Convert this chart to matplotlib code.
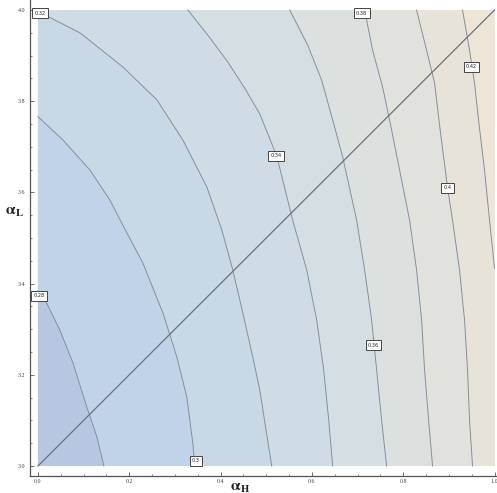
import matplotlib
matplotlib.use("Agg")
import matplotlib.pyplot as plt
from matplotlib.ticker import MultipleLocator, FixedLocator

plt.rcParams['mathtext.fontset'] = 'stix'

# ---------------- data ----------------
levels = [0.28, 0.30, 0.32, 0.34, 0.36, 0.38, 0.40, 0.42]
level_labels = ["0.28", "0.3", "0.32", "0.34", "0.36", "0.38", "0.4", "0.42"]

# contour paths: alpha_H (x) and alpha_L (y), from left/top edge to bottom/right edge
c028_x = [0.0, 0.0175, 0.048, 0.0766, 0.107, 0.129, 0.1444]
c028_y = [3.384, 3.360, 3.298, 3.226, 3.129, 3.064, 3.0]
c030_x = [0.0, 0.0547, 0.1138, 0.1575, 0.1969, 0.2298, 0.2735, 0.3042, 0.3260, 0.3392, 0.3435]
c030_y = [3.766, 3.715, 3.649, 3.583, 3.507, 3.445, 3.336, 3.239, 3.151, 3.050, 3.0]
c032_x = [0.0, 0.0153, 0.0919, 0.1860, 0.2604, 0.3173, 0.3698, 0.4026, 0.4267, 0.4486, 0.4705, 0.4858, 0.4989, 0.5120]
c032_y = [3.997, 3.989, 3.950, 3.875, 3.803, 3.715, 3.612, 3.518, 3.430, 3.336, 3.239, 3.167, 3.083, 3.0]
c034_x = [0.3282, 0.3720, 0.4158, 0.4551, 0.4858, 0.5230, 0.5580, 0.5886, 0.6105, 0.6258, 0.6368, 0.6455]
c034_y = [4.0, 3.945, 3.886, 3.825, 3.772, 3.680, 3.539, 3.430, 3.320, 3.211, 3.101, 3.0]
c036_x = [0.5514, 0.5908, 0.6214, 0.6455, 0.6674, 0.6980, 0.7155, 0.7309, 0.7418, 0.7527, 0.7637]
c036_y = [4.0, 3.923, 3.846, 3.759, 3.678, 3.539, 3.430, 3.320, 3.211, 3.101, 3.0]
c038_x = [0.7155, 0.7330, 0.7549, 0.7724, 0.7921, 0.8140, 0.8293, 0.8403, 0.8468, 0.8556, 0.8643]
c038_y = [4.0, 3.912, 3.831, 3.748, 3.649, 3.539, 3.430, 3.320, 3.211, 3.101, 3.0]
c040_x = [0.8293, 0.8512, 0.8687, 0.8796, 0.8972, 0.9081, 0.9234, 0.9344, 0.9409, 0.9453, 0.9519]
c040_y = [4.0, 3.912, 3.840, 3.748, 3.610, 3.539, 3.430, 3.320, 3.211, 3.101, 3.0]
c042_x = [0.930, 0.9453, 0.9562, 0.9650, 0.9781, 0.9891, 1.0]
c042_y = [4.0, 3.912, 3.840, 3.759, 3.649, 3.539, 3.434]

paths_x = [c028_x, c030_x, c032_x, c034_x, c036_x, c038_x, c040_x, c042_x]
paths_y = [c028_y, c030_y, c032_y, c034_y, c036_y, c038_y, c040_y, c042_y]

# label positions
label_x = [0.002, 0.346, 0.004, 0.521, 0.735, 0.709, 0.897, 0.950]
label_y = [3.373, 3.011, 3.993, 3.680, 3.265, 3.993, 3.610, 3.875]

# band colours: below 0.28 ... above 0.42
band_colors = ["#b7c7e2", "#c1d3e9", "#c8d8e7", "#cfdce5", "#d5dfe3",
               "#dce1e0", "#e2e2dc", "#e7e3d8", "#ede5d6"]

# diagonal line
diag_x = [0.0, 1.0]
diag_y = [3.0, 4.0]

x_ticks = [0.0, 0.2, 0.4, 0.6, 0.8, 1.0]
y_ticks = [3.0, 3.2, 3.4, 3.6, 3.8, 4.0]
x_ticklabels = ["0.0", "0.2", "0.4", "0.6", "0.8", "1.0"]
y_ticklabels = ["3.0", "3.2", "3.4", "3.6", "3.8", "4.0"]
x0, x1, y0, y1 = 0.0, 1.0, 3.0, 4.0

# ---------------- figure ----------------
W, H = 497, 493
fig = plt.figure(figsize=(W / 100, H / 100), dpi=100)
ax = fig.add_axes([29.5 / W, 17 / H, 467.5 / W, 476 / H])
ax.set_xlim(x0 - 8.5 / 457, x1 + 2.5 / 457)
ax.set_ylim(y0 - 10 / 456, y1 + 10 / 456)


def region_below(xs, ys):
    pts = list(zip(xs, ys))
    xe, ye = pts[-1]
    if xe >= x1 - 1e-9 and ye > y0:
        pts.append((x1, y0))
    pts.append((x0, y0))
    xs0, ys0 = pts[0]
    if ys0 >= y1 - 1e-9 and xs0 > x0:
        pts.append((x0, y1))
    return pts


# top band fills the whole region
ax.fill([x0, x1, x1, x0], [y0, y0, y1, y1], color=band_colors[-1], lw=0, zorder=1)
for i in range(len(levels) - 1, -1, -1):
    pts = region_below(paths_x[i], paths_y[i])
    ax.fill([p[0] for p in pts], [p[1] for p in pts], color=band_colors[i], lw=0, zorder=1)

for i in range(len(levels)):
    ax.plot(paths_x[i], paths_y[i], color="#84909d", lw=0.7, zorder=2,
            solid_joinstyle="round")

ax.plot(diag_x, diag_y, color="#6a727c", lw=0.9, zorder=3)

for i in range(len(levels)):
    ax.text(label_x[i], label_y[i], level_labels[i], fontsize=3.6, ha="center", va="center",
            family="DejaVu Sans", color="#222222", zorder=5,
            bbox=dict(boxstyle="square,pad=0.45", fc="white", ec="#444444", lw=0.7))

# axes styling
for s in ["top", "right"]:
    ax.spines[s].set_visible(False)
for s in ["left", "bottom"]:
    ax.spines[s].set_color("#555555")
    ax.spines[s].set_linewidth(0.9)

ax.xaxis.set_major_locator(FixedLocator(x_ticks))
ax.yaxis.set_major_locator(FixedLocator(y_ticks))
ax.set_xticklabels(x_ticklabels)
ax.set_yticklabels(y_ticklabels)
ax.xaxis.set_minor_locator(MultipleLocator(0.05))
ax.yaxis.set_minor_locator(MultipleLocator(0.05))
ax.tick_params(which="major", direction="in", length=3, width=0.6, color="#555555",
               labelsize=4.3, labelcolor="#444444")
ax.tick_params(which="minor", direction="in", length=1.6, width=0.5, color="#555555")
ax.tick_params(axis="x", pad=2)
ax.tick_params(axis="y", pad=3)
for lab in ax.get_xticklabels() + ax.get_yticklabels():
    lab.set_family("Liberation Serif")

fig.text(240 / W, 1 - 487 / H, r"$\mathbf{\alpha}_{\mathbf{H}}$", fontsize=11,
         ha="center", va="center", color="#222222")
fig.text(14 / W, 1 - 212 / H, r"$\mathbf{\alpha}_{\mathbf{L}}$", fontsize=11,
         ha="center", va="center", color="#222222")

fig.savefig("out.png", dpi=100, facecolor="white")
